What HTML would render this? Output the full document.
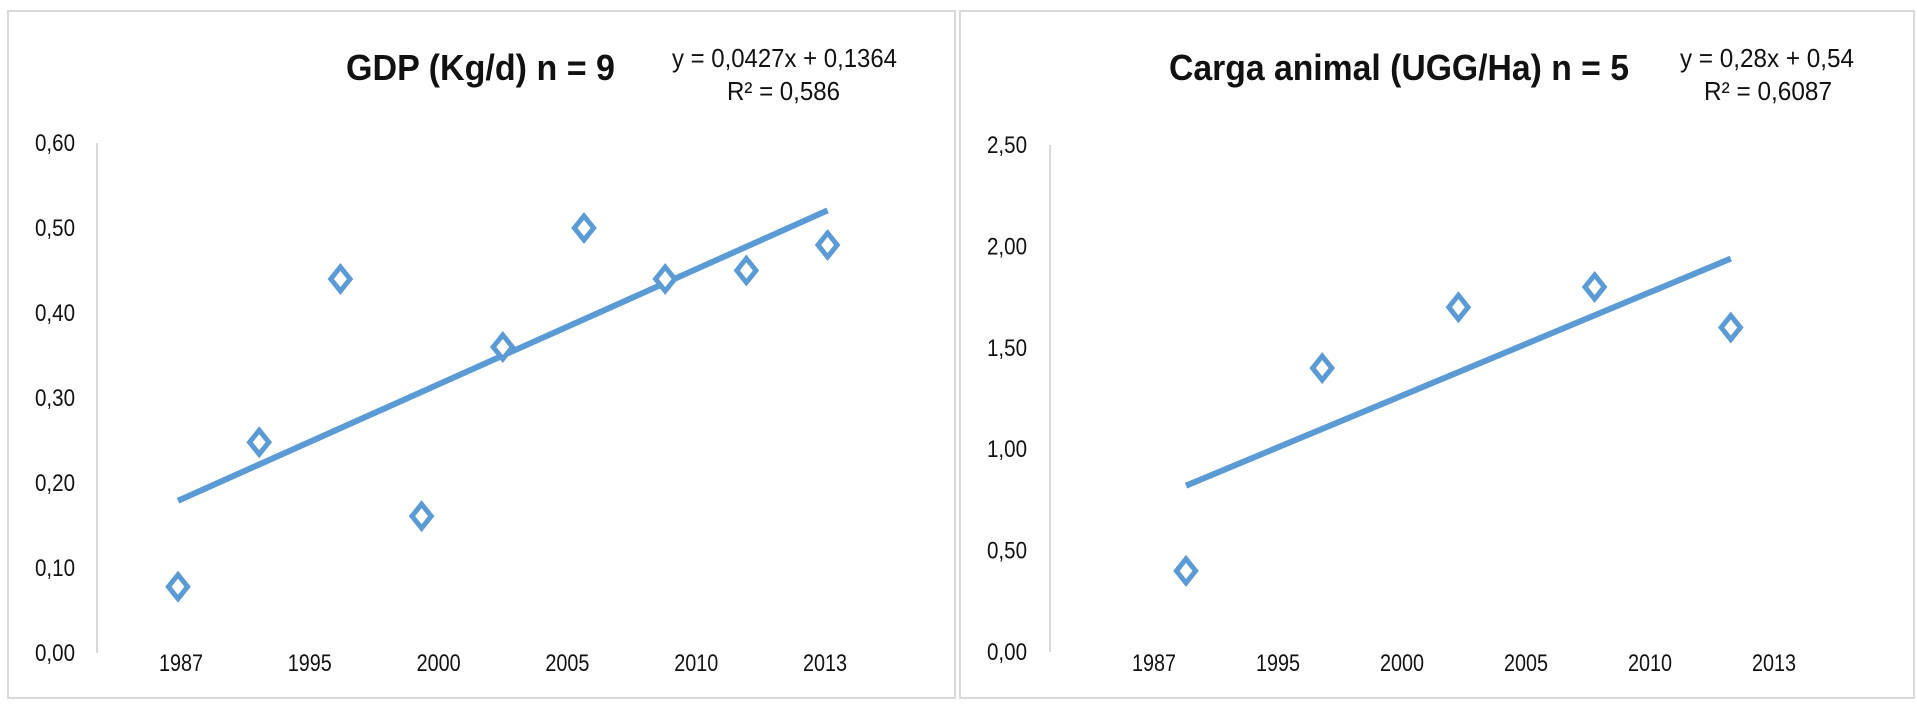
<!DOCTYPE html>
<html><head><meta charset="utf-8"><style>
html,body{margin:0;padding:0;background:#fff;}
svg{display:block;}
text{font-family:"Liberation Sans Narrow","Liberation Sans",sans-serif;fill:#111;}
</style></head><body>
<svg id="c" width="1917" height="708" xmlns="http://www.w3.org/2000/svg">
<rect x="0" y="0" width="1917" height="708" fill="#fff"/>
<rect x="8" y="11" width="947" height="687" fill="none" stroke="#d9d9d9" stroke-width="2"/>
<rect x="960" y="11" width="954" height="687" fill="none" stroke="#d9d9d9" stroke-width="2"/>
</svg>
<script>
// GDP chart data
const gdpValues = [0.078, 0.248, 0.44, 0.161, 0.36, 0.50, 0.44, 0.45, 0.48];
const gdpSlope = 0.0427, gdpIntercept = 0.1364;
const gdpYTicks = [0, 0.1, 0.2, 0.3, 0.4, 0.5, 0.6];
const gdpXLabels = ["1987","1995","2000","2005","2010","2013"];
// Carga animal chart data
const cargaValues = [0.4, 1.4, 1.7, 1.8, 1.6];
const cargaSlope = 0.28, cargaIntercept = 0.54;
const cargaYTicks = [0, 0.5, 1.0, 1.5, 2.0, 2.5];
const cargaXLabels = ["1987","1995","2000","2005","2010","2013"];

const NS = "http://www.w3.org/2000/svg";
const svg = document.getElementById('c');
const BLUE = "#5b9bd5";
function mk(tag, attrs, parent){const e=document.createElementNS(NS,tag);for(const k in attrs)e.setAttribute(k,attrs[k]);(parent||svg).appendChild(e);return e;}

function drawChart(cfg){
  const g = mk('g',{});
  
  
  const y = v => cfg.y0 - v * cfg.yScale;
  const x = i => cfg.xFirst + i * cfg.xStep;
  const yMax = cfg.yTicks[cfg.yTicks.length-1];
  const axis = mk('line',{x1:cfg.axisX,y1:y(yMax),x2:cfg.axisX,y2:y(0),stroke:"#d9d9d9","stroke-width":2},g);
  
  
  cfg.yTicks.forEach(t=>{
    const tx = mk('text',{x:cfg.yLabelRight,y:y(t)+8,"text-anchor":"end","font-size":24,textLength:40,lengthAdjust:"spacingAndGlyphs"},g);
    tx.textContent = t.toFixed(2).replace('.',',');
    
    
  });
  cfg.xLabels.forEach((l,j)=>{
    const tx = mk('text',{x:cfg.labFirst + j*cfg.labStep,y:cfg.labY,"text-anchor":"middle","font-size":24,textLength:44,lengthAdjust:"spacingAndGlyphs"},g);
    tx.textContent = l;
    
    
  });
  const n = cfg.values.length;
  const tr = mk('line',{x1:x(0),y1:y(cfg.slope*1+cfg.intercept),x2:x(n-1),y2:y(cfg.slope*n+cfg.intercept),stroke:BLUE,"stroke-width":6},g);
  
  
  cfg.values.forEach((v,i)=>{
    const cx=x(i), cy=y(v), r=12;
    const p = mk('polygon',{points:`${cx},${cy-r} ${cx+r*0.8},${cy} ${cx},${cy+r} ${cx-r*0.8},${cy}`,fill:"#fff",stroke:BLUE,"stroke-width":5},g);
    
    
  });
  const t = mk('text',{x:cfg.titleX,y:80,"font-size":36,"font-weight":"bold",textLength:cfg.titleW,lengthAdjust:"spacingAndGlyphs"},g);
  t.textContent = cfg.title;
  
  
  const e1 = mk('text',{x:cfg.eqX,y:67,"font-size":26,textLength:cfg.eqW,lengthAdjust:"spacingAndGlyphs"},g);
  e1.textContent = cfg.eq;
  
  
  const e2 = mk('text',{x:cfg.r2X,y:100,"font-size":26,textLength:cfg.r2W,lengthAdjust:"spacingAndGlyphs"},g);
  e2.textContent = cfg.r2;
  
  
}

drawChart({name:'gdp-chart', values:gdpValues, slope:gdpSlope, intercept:gdpIntercept, yTicks:gdpYTicks, xLabels:gdpXLabels,
  y0:653, yScale:850, xFirst:178, xStep:81.2, axisX:97, yLabelRight:75,
  labFirst:181, labStep:128.8, labY:671,
  title:"GDP (Kg/d)    n = 9", titleX:346, titleW:269,
  eq:"y = 0,0427x + 0,1364", eqX:672, eqW:225, r2:"R² = 0,586", r2X:727, r2W:113});

drawChart({name:'carga-animal-chart', values:cargaValues, slope:cargaSlope, intercept:cargaIntercept, yTicks:cargaYTicks, xLabels:cargaXLabels,
  y0:652, yScale:202.8, xFirst:1186, xStep:136.2, axisX:1050, yLabelRight:1027,
  labFirst:1154, labStep:124, labY:671,
  title:"Carga animal  (UGG/Ha)    n = 5", titleX:1169, titleW:460,
  eq:"y = 0,28x + 0,54", eqX:1680, eqW:174, r2:"R² = 0,6087", r2X:1704, r2W:128});
</script>
</body></html>
